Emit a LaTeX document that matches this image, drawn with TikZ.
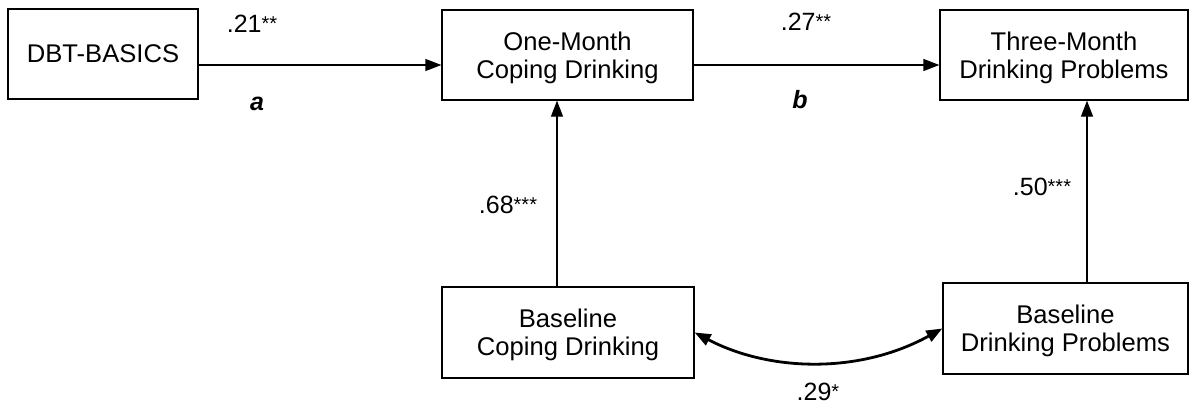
\documentclass[tikz,border=0pt]{standalone}
\usepackage{fontspec}
\setmainfont{Liberation Sans}
\usetikzlibrary{arrows.meta,calc}
\newcommand{\stars}[1]{\raisebox{1.2pt}{\fontsize{10}{10}\selectfont #1}}
\begin{document}
\begin{tikzpicture}[x=0.5pt,y=-0.5pt,
  box/.style={draw,line width=0.65pt,rectangle,align=center,inner sep=0pt,
    font=\fontsize{12.8}{13.8}\selectfont,text depth=0pt},
  arr/.style={line width=0.65pt,-{Triangle[length=8pt,width=6pt]}},
  darr/.style={line width=1.4pt,{Triangle[length=8pt,width=6pt]}-{Triangle[length=8pt,width=6pt]}},
  lbl/.style={font=\fontsize{12.5}{13}\selectfont,inner sep=0pt}]
\useasboundingbox (0,0) rectangle (1191,407);
\node[box,minimum width=95pt,minimum height=45pt] (dbt) at (103,54) {DBT-BASICS};
\node[box,minimum width=125.5pt,minimum height=45pt] (om) at (567.5,55) {One-Month\\Coping Drinking};
\node[box,minimum width=124pt,minimum height=45pt] (tm) at (1064,55) {Three-Month\\Drinking Problems};
\node[box,minimum width=126pt,minimum height=45.5pt] (bc) at (568,332.5) {Baseline\\Coping Drinking};
\node[box,minimum width=122.5pt,minimum height=45.5pt] (bd) at (1065.5,328.5) {Baseline\\Drinking Problems};
\draw[arr] ([yshift=-5.5pt]dbt.east) -- ([yshift=-5.5pt]dbt.east -| om.west);
\draw[arr] ([yshift=-5pt]om.east) -- ([yshift=-5pt]om.east -| tm.west);
\draw[arr] ([xshift=-5.5pt]bc.north) -- ([xshift=-5.5pt]bc.north |- om.south);
\draw[arr] ([xshift=10.75pt]bd.north) -- ([xshift=10.75pt]bd.north |- tm.south);
\draw[darr] (bc.east) .. controls (770,372) and (860,374) .. (bd.west);
\node[lbl] (l21) at (252,24) {.21\stars{**}};
\node[lbl] (la) at (257,104) {\bfseries\itshape a};
\node[lbl] (l27) at (806,22) {.27\stars{**}};
\node[lbl] (lb) at (800,100) {\bfseries\itshape b};
\node[lbl] (l68) at (508,205) {.68\stars{***}};
\node[lbl] (l50) at (1042,187) {.50\stars{***}};
\node[lbl] (l29) at (818,392) {.29\stars{*}};
\end{tikzpicture}
\end{document}
